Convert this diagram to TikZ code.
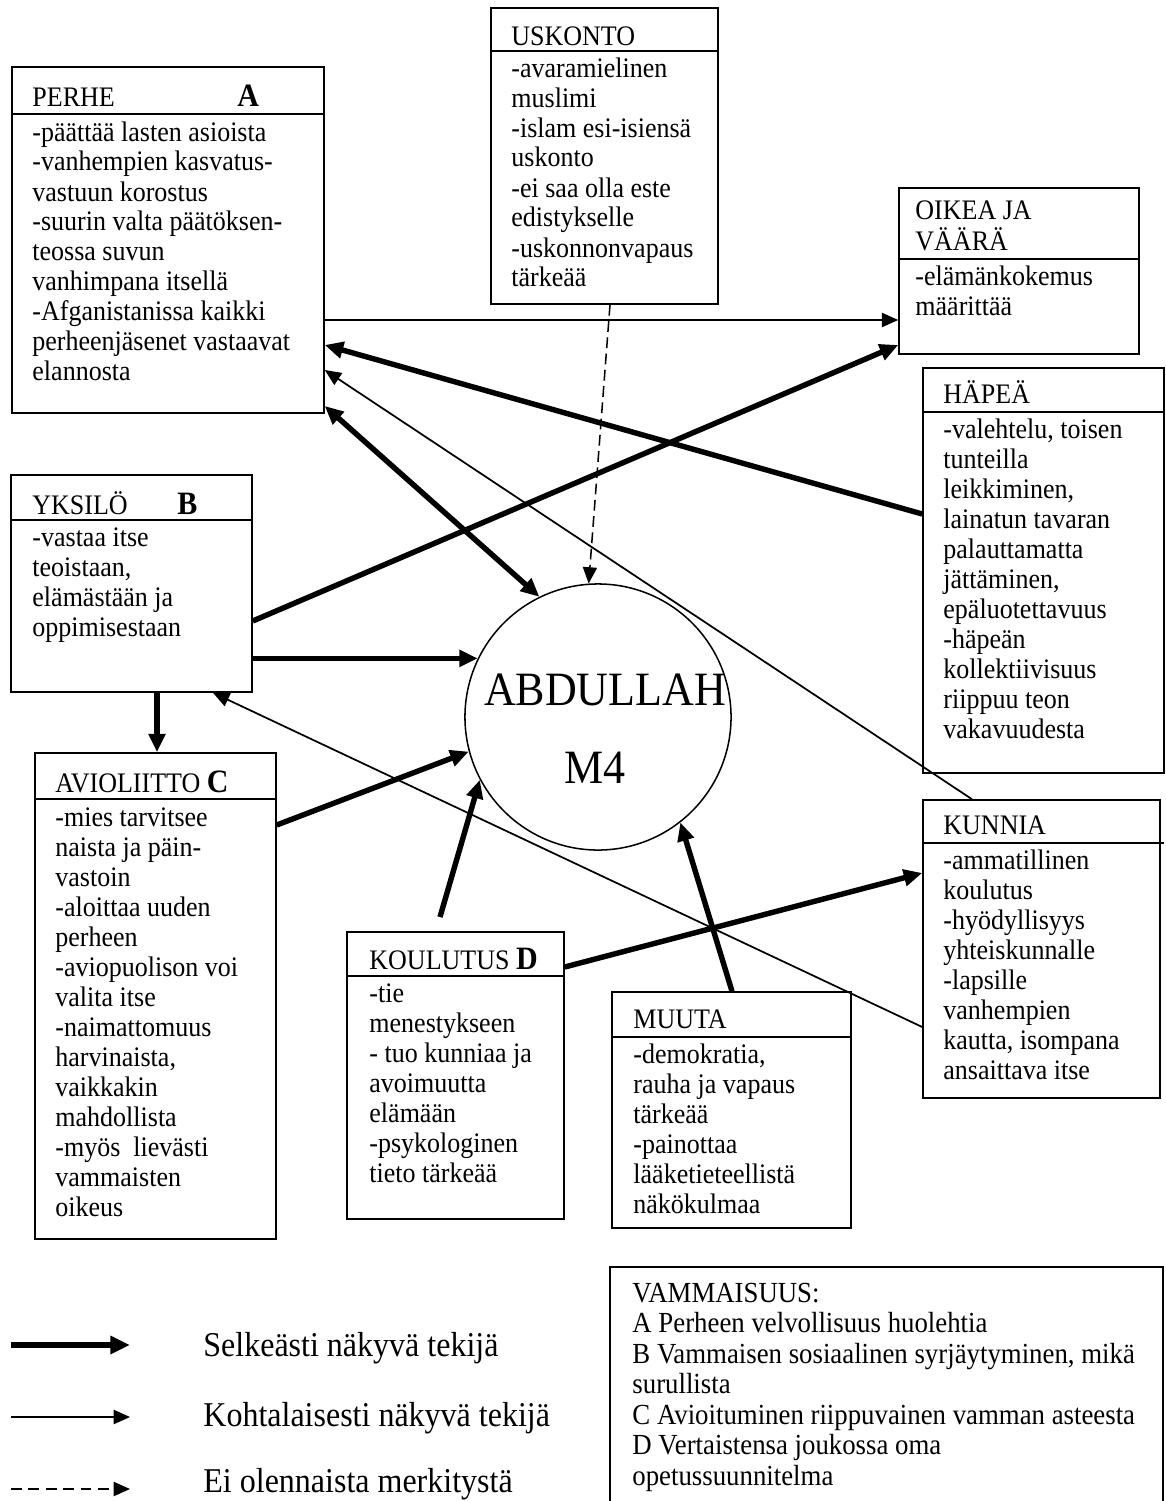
\documentclass[tikz,border=0pt]{standalone}
\usepackage{fontspec}
\setmainfont{Liberation Serif}[FakeStretch=0.92]
\usetikzlibrary{arrows.meta,fit}

% stacked text lines; the node's baseline is the baseline of the first line
\newcommand\boxlines[2][13.8pt]{\vtop{\baselineskip=#1\lineskiplimit=-20pt\lineskip=0pt\halign{##\hfil\cr#2\crcr}}}
\newcommand\tagfont{\fontsize{15pt}{16pt}\selectfont\bfseries}

\begin{document}
\begin{tikzpicture}[x=0.46pt,y=-0.46pt,
  font=\fontsize{13pt}{13.8pt}\selectfont,
  box/.style={draw,line width=0.7pt,inner sep=0pt},
  txt/.style={inner sep=0pt,anchor=base west},
  tag/.style={inner sep=0pt,anchor=base west,font=\tagfont},
  legendtxt/.style={inner sep=0pt,anchor=base west,font=\fontsize{16pt}{18pt}\selectfont},
  bigtxt/.style={inner sep=0pt,font=\fontsize{22pt}{24pt}\selectfont},
  divider/.style={line width=0.7pt},
  conn/.style={line width=0.8pt,-{Triangle[length=7.5pt,width=6.5pt]}},
  heavy/.style={line width=2.5pt,-{Triangle[length=8.5pt,width=7.5pt]}},
  heavyboth/.style={line width=2.5pt,{Triangle[length=8.5pt,width=7.5pt]}-{Triangle[length=8.5pt,width=7.5pt]}},
  faint/.style={line width=0.7pt,dash pattern=on 5pt off 2.5pt,-{Triangle[length=7.5pt,width=6.5pt]}},
]
\useasboundingbox (0,0) rectangle (1166,1501);

% ---------- boxes ----------
\node[box,fit={(12,67) (324,413)}] (perhe) {};
\node[box,fit={(491,8) (718,304)}] (uskonto) {};
\node[box,fit={(899,188) (1139,354)}] (oikea) {};
\node[box,fit={(923,368) (1164,773)}] (hapea) {};
\node[box,fit={(11,475) (252,692)}] (yksilo) {};
\node[box,fit={(35,753) (276,1239)}] (avio) {};
\node[box,fit={(347,932) (564,1219)}] (koulutus) {};
\node[box,fit={(612,992) (851,1228)}] (muuta) {};
\node[box,fit={(923,800) (1160,1098)}] (kunnia) {};
\node[box,fit={(610,1267) (1163,1506)}] (vamma) {};

% header dividers
\draw[divider] (perhe.west |- 0,114) -- (perhe.east |- 0,114);
\draw[divider] (uskonto.west |- 0,51) -- (uskonto.east |- 0,51);
\draw[divider] (oikea.west |- 0,259) -- (oikea.east |- 0,259);
\draw[divider] (hapea.west |- 0,412) -- (hapea.east |- 0,412);
\draw[divider] (yksilo.west |- 0,520) -- (yksilo.east |- 0,520);
\draw[divider] (avio.west |- 0,799) -- (avio.east |- 0,799);
\draw[divider] (koulutus.west |- 0,976) -- (koulutus.east |- 0,976);
\draw[divider] (muuta.west |- 0,1037) -- (muuta.east |- 0,1037);
\draw[divider] (kunnia.west |- 0,843) -- (1164,843);

% ---------- headers ----------
\node[txt] (perhe-h) at (32,106) {PERHE};
\node[tag] (perhe-t) at (237,106) {A};
\node[txt] (uskonto-h) at (511,45) {USKONTO};
\node[txt] (oikea-h) at (915,219) {\boxlines[14.5pt]{OIKEA JA\cr VÄÄRÄ}};
\node[txt] (hapea-h) at (943,403) {HÄPEÄ};
\node[txt] (yksilo-h) at (32,514) {YKSILÖ};
\node[tag] (yksilo-t) at (177,514) {B};
\node[txt] (avio-h) at (55,792) {AVIOLIITTO {\tagfont C}};
\node[txt] (koulutus-h) at (369,969) {KOULUTUS {\tagfont D}};
\node[txt] (muuta-h) at (633,1028) {MUUTA};
\node[txt] (kunnia-h) at (943,834) {KUNNIA};

% ---------- box texts ----------
\node[txt] (perhe-b) at (32,141) {\boxlines{-päättää lasten asioista\cr
  -vanhempien kasvatus-\cr vastuun korostus\cr -suurin valta päätöksen-\cr
  teossa suvun\cr vanhimpana itsellä\cr -Afganistanissa kaikki\cr
  perheenjäsenet vastaavat\cr elannosta}};
\node[txt] (uskonto-b) at (511,77) {\boxlines{-avaramielinen\cr muslimi\cr
  -islam esi-isiensä\cr uskonto\cr -ei saa olla este\cr edistykselle\cr
  -uskonnonvapaus\cr tärkeää}};
\node[txt] (oikea-b) at (915,285) {\boxlines{-elämänkokemus\cr määrittää}};
\node[txt] (hapea-b) at (943,438) {\boxlines{-valehtelu, toisen\cr tunteilla\cr
  leikkiminen,\cr lainatun tavaran\cr palauttamatta\cr jättäminen,\cr
  epäluotettavuus\cr -häpeän\cr kollektiivisuus\cr riippuu teon\cr vakavuudesta}};
\node[txt] (yksilo-b) at (32,546) {\boxlines{-vastaa itse\cr teoistaan,\cr
  elämästään ja\cr oppimisestaan}};
\node[txt] (avio-b) at (55,826) {\boxlines{-mies tarvitsee\cr naista ja päin-\cr
  vastoin\cr -aloittaa uuden\cr perheen\cr -aviopuolison voi\cr valita itse\cr
  -naimattomuus\cr harvinaista,\cr vaikkakin\cr mahdollista\cr
  -myös\ \ lievästi\cr vammaisten\cr oikeus}};
\node[txt] (koulutus-b) at (369,1002) {\boxlines{-tie\cr menestykseen\cr
  - tuo kunniaa ja\cr avoimuutta\cr elämään\cr -psykologinen\cr tieto tärkeää}};
\node[txt] (muuta-b) at (633,1063) {\boxlines{-demokratia,\cr rauha ja vapaus\cr
  tärkeää\cr -painottaa\cr lääketieteellistä\cr näkökulmaa}};
\node[txt] (kunnia-b) at (943,869) {\boxlines{-ammatillinen\cr koulutus\cr
  -hyödyllisyys\cr yhteiskunnalle\cr -lapsille\cr vanhempien\cr
  kautta, isompana\cr ansaittava itse}};
\node[txt,font=\fontsize{13.4pt}{14pt}\selectfont] (vamma-b) at (632,1302) {\boxlines[14.03pt]{VAMMAISUUS:\cr
  A Perheen velvollisuus huolehtia\cr
  B Vammaisen sosiaalinen syrjäytyminen, mikä\cr surullista\cr
  C Avioituminen riippuvainen vamman asteesta\cr
  D Vertaistensa joukossa oma\cr opetussuunnitelma}};

% ---------- central circle ----------
\node[draw,circle,line width=0.7pt,minimum size=122.4pt,inner sep=0pt] (abd) at (598,717) {};
\node[bigtxt] (abd-name) at (605,690) {ABDULLAH};
\node[bigtxt] (abd-code) at (595,768) {M4};

% ---------- connectors ----------
\coordinate (koul-start) at (440,917);
\draw[conn] (perhe.east |- 0,320) -- (oikea.west |- 0,320);
\draw[heavy] (yksilo.east |- 0,621) -- (oikea.west |- 0,345);
\draw[heavy] (hapea.west |- 0,514) -- (perhe.east |- 0,345);
\draw[conn] (kunnia.north -| 972,0) -- (perhe.east |- 0,370);
\draw[heavyboth] (perhe.east |- 0,406) -- (abd.116);
\draw[faint] (uskonto.south -| 610,0) -- (abd.94);
\draw[heavy] (yksilo.east |- abd.154) -- (abd.154);
\draw[heavy] (yksilo.south -| 157,0) -- (avio.north -| 157,0);
\draw[heavy] (avio.east |- 0,825) -- (abd.195);
\draw[heavy] (koul-start) -- (abd.208.7);
\draw[heavy] (muuta.north -| 732,0) -- (abd.308.3);
\draw[heavy] (koulutus.east |- 0,967) -- (kunnia.west |- 0,873);
\draw[conn] (kunnia.west |- 0,1027) -- (yksilo.south -| 213,0);

% ---------- legend ----------
\coordinate (lg1a) at (11,1345); \coordinate (lg1b) at (130,1345);
\coordinate (lg2a) at (11,1417); \coordinate (lg2b) at (130,1417);
\coordinate (lg3a) at (11,1489); \coordinate (lg3b) at (130,1489);
\draw[heavy,-{Triangle[length=9pt,width=8pt]}] (lg1a) -- (lg1b);
\draw[conn] (lg2a) -- (lg2b);
\draw[faint,dash pattern=on 5pt off 3pt] (lg3a) -- (lg3b);
\node[legendtxt] (lg1) at (203,1356) {Selkeästi näkyvä tekijä};
\node[legendtxt] (lg2) at (203,1426) {Kohtalaisesti näkyvä tekijä};
\node[legendtxt] (lg3) at (203,1492) {Ei olennaista merkitystä};
\end{tikzpicture}
\end{document}
